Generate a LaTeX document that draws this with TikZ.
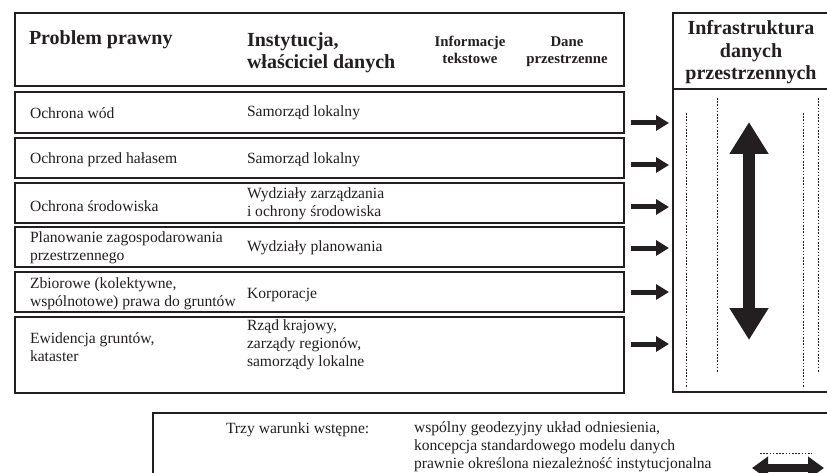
\documentclass[tikz,border=0pt]{standalone}
\usepackage{fontspec}
\setmainfont{Liberation Serif}
\usetikzlibrary{arrows.meta}
\definecolor{ink}{HTML}{231F20}
\begin{document}
\begin{tikzpicture}[x=1pt,y=-1pt,
  every node/.style={inner sep=0pt, outer sep=0pt, text=ink},
  boxline/.style={draw=ink, line width=2.4pt},
  body/.style={font=\fontsize{15.6}{17.5}\selectfont, align=left, anchor=west},
  hbig/.style={font=\bfseries\fontsize{20}{22.5}\selectfont},
  hsmall/.style={font=\bfseries\fontsize{14.8}{17}\selectfont, align=center, anchor=base},
  feed/.style={draw=ink, line width=5pt, -{Triangle[length=13pt,width=15pt]}},
  guide/.style={draw=ink, line width=0.9pt, dash pattern=on 1.6pt off 1.6pt},
]
\useasboundingbox (0,0) rectangle (827,473);
\fill[white] (0,0) rectangle (827,473);
\begin{scope}
\clip (0,0) rectangle (827,473);
% left table
\draw[boxline] (15,13) rectangle (624,86);
\draw[boxline] (15,92) rectangle (624,133);
\draw[boxline] (15,138) rectangle (624,178);
\draw[boxline] (15,183) rectangle (624,223);
\draw[boxline] (15,227) rectangle (624,267);
\draw[boxline] (15,272) rectangle (624,312);
\draw[boxline] (15,317) rectangle (624,393);
% right box
\draw[draw=ink, line width=2.2pt] (673,13) rectangle (845,392);
\draw[draw=ink, line width=2.2pt] (673,89) -- (845,89);
% bottom box
\draw[draw=ink, line width=2.2pt] (153,413) rectangle (845,495);
% guides
\coordinate (g1t) at (686,113); \coordinate (g1b) at (686,387);
\coordinate (g2t) at (717,98);  \coordinate (g2b) at (717,373);
\coordinate (g3t) at (803,113); \coordinate (g3b) at (803,387);
\coordinate (g4t) at (818,98);  \coordinate (g4b) at (818,373);
\draw[guide] (g1t) -- (g1b);
\draw[guide] (g2t) -- (g2b);
\draw[guide] (g3t) -- (g3b);
\draw[guide] (g4t) -- (g4b);
% big double arrow
\coordinate (bt) at (749,122); \coordinate (bb) at (749,340);
\draw[draw=ink, line width=12pt, {Triangle[length=32pt,width=37pt]}-{Triangle[length=32pt,width=37pt]}] (bt) -- (bb);
% feeding arrows
\foreach \i/\y in {1/123,2/165,3/207,4/248,5/292,6/344}{
  \coordinate (fs\i) at (631,\y);
  \coordinate (fe\i) at (669,\y);
  \draw[feed] (fs\i) -- (fe\i);
}
% small legend arrow
\coordinate (lt1) at (760,453); \coordinate (lt2) at (812,453);
\draw[guide, line width=0.8pt] (lt1) -- (lt2);
\coordinate (la) at (752,468); \coordinate (lb) at (824,468);
\draw[draw=ink, line width=8pt, {Triangle[length=16pt,width=22pt]}-{Triangle[length=16pt,width=22pt]}] (la) -- (lb);
\end{scope}
% header texts
\node[hbig, anchor=base west] (h1) at (29,45) {Problem prawny};
\node[hbig, anchor=base west, align=left] (h2) at (247,69) {Instytucja,\\właściciel danych};
\node[hsmall] (h3) at (470,64) {Informacje\\tekstowe};
\node[hsmall] (h4) at (567,64) {Dane\\przestrzenne};
\node[hbig, anchor=base, align=center] (h5) at (751,80) {Infrastruktura\\danych\\przestrzennych};
% rows
\node[body] (p1) at (30,113) {Ochrona wód};
\node[body] (i1) at (247,113) {Samorząd lokalny};
\node[body] (p2) at (30,160) {Ochrona przed hałasem};
\node[body] (i2) at (247,160) {Samorząd lokalny};
\node[body] (p3) at (30,206) {Ochrona środowiska};
\node[body] (i3) at (247,204) {Wydziały zarządzania\\i ochrony środowiska};
\node[body] (p4) at (30,248) {Planowanie zagospodarowania\\przestrzennego};
\node[body] (i4) at (247,248) {Wydziały planowania};
\node[body] (p5) at (30,294) {Zbiorowe (kolektywne,\\wspólnotowe) prawa do gruntów};
\node[body] (i5) at (247,295) {Korporacje};
\node[body] (p6) at (30,347) {Ewidencja gruntów,\\kataster};
\node[body, font=\fontsize{15.6}{18}\selectfont] (i6) at (247,345) {Rząd krajowy,\\zarządy regionów,\\samorządy lokalne};
% bottom texts
\node[body] (w0) at (226,430) {Trzy warunki wstępne:};
\node[body, anchor=north west, font=\fontsize{15.6}{18}\selectfont] (w1) at (414,422) {wspólny geodezyjny układ odniesienia,\\koncepcja standardowego modelu danych\\prawnie określona niezależność instytucjonalna};
\end{tikzpicture}
\end{document}
